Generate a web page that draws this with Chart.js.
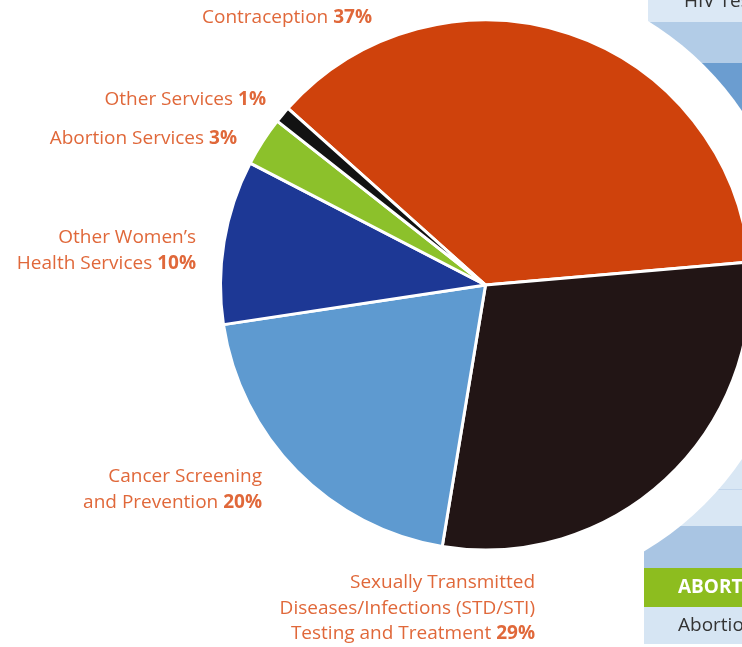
<!DOCTYPE html>
<html>
<head>
<meta charset="utf-8">
<script src="https://cdn.jsdelivr.net/npm/chart.js@4.4.0/dist/chart.umd.min.js"></script>
<style>
  html, body { margin: 0; padding: 0; background: #fff; overflow: hidden; }
  #wrap { position: absolute; left: 0; top: 0; width: 742px; height: 647px; overflow: hidden; }
  canvas { position: absolute; left: 0; top: 0; }
</style>
</head>
<body>
<div id="wrap"><canvas id="pie" width="760" height="647"></canvas></div>
<script>
// slices, clockwise from Contraception
const categories = [
  "Contraception",
  "Sexually Transmitted Diseases/Infections (STD/STI) Testing and Treatment",
  "Cancer Screening and Prevention",
  "Other Women’s Health Services",
  "Abortion Services",
  "Other Services",
];
const shares = [37, 29, 20, 10, 3, 1];
const sliceColors = ["#cf420c", "#221515", "#5e9ad0", "#1d3895", "#8cc12b", "#121212"];
// how each label is broken over lines
const labelLines = [
  ["Contraception"],
  ["Sexually Transmitted", "Diseases/Infections (STD/STI)", "Testing and Treatment"],
  ["Cancer Screening", "and Prevention"],
  ["Other Women’s", "Health Services"],
  ["Abortion Services"],
  ["Other Services"],
];
// right edge / first line middle of each label block
const labelAnchors = [[372, 18], [535, 583], [262, 477], [196, 238], [237, 139], [266, 100]];

const FONT = '"Open Sans", sans-serif';
const TEXT_COLOR = "#e0683a";

// table peeking in from the right, plus the white halo round the pie
const backdrop = {
  id: "backdrop",
  beforeDatasetsDraw(chart) {
    const ctx = chart.ctx;
    const meta = chart.getDatasetMeta(0);
    const arc = meta.data[0];
    const cx = arc.x, cy = arc.y, r = arc.outerRadius;
    ctx.save();
    // top block
    ctx.fillStyle = "#dbe8f5"; ctx.fillRect(648, -5, 120, 27);
    ctx.fillStyle = "#b2cce7"; ctx.fillRect(648, 22, 120, 41);
    ctx.fillStyle = "#6b9dd0"; ctx.fillRect(648, 63, 120, 400);
    ctx.fillStyle = "#333";
    ctx.font = "19px " + FONT;
    ctx.textBaseline = "middle";
    ctx.fillText("HIV Testing", 684, 2);
    // bottom block
    ctx.fillStyle = "#d9e7f4"; ctx.fillRect(644, 440, 120, 86);
    ctx.fillStyle = "#c2d6ec"; ctx.fillRect(644, 489, 120, 1);
    ctx.fillStyle = "#a9c5e3"; ctx.fillRect(644, 526, 120, 42);
    ctx.fillStyle = "#8dbd1f"; ctx.fillRect(644, 568, 120, 39);
    ctx.fillStyle = "#d6e5f3"; ctx.fillRect(644, 607, 120, 37);
    ctx.fillStyle = "#ffffff";
    ctx.font = "bold 19px " + FONT;
    ctx.fillText("ABORTION", 678, 588);
    ctx.fillStyle = "#333";
    ctx.font = "19px " + FONT;
    ctx.fillText("Abortion", 678, 626);
    // halo
    ctx.beginPath();
    ctx.arc(cx, cy, r + 45, 0, Math.PI * 2);
    ctx.fillStyle = "#ffffff";
    ctx.fill();
    ctx.restore();
  },
};

// outside labels: name in regular, share in bold, right aligned
const sliceLabels = {
  id: "sliceLabels",
  afterDatasetsDraw(chart) {
    const ctx = chart.ctx;
    const lineH = 25.5;
    ctx.save();
    ctx.fillStyle = TEXT_COLOR;
    ctx.textBaseline = "middle";
    ctx.textAlign = "left";
    labelLines.forEach((lines, i) => {
      const [rx, y0] = labelAnchors[i];
      lines.forEach((txt, j) => {
        const y = y0 + j * lineH;
        const last = j === lines.length - 1;
        const pct = last ? " " + shares[i] + "%" : "";
        ctx.font = "bold 19px " + FONT;
        const wb = pct ? ctx.measureText(pct).width : 0;
        ctx.font = "19px " + FONT;
        const wn = ctx.measureText(txt).width;
        ctx.fillText(txt, rx - wb - wn, y);
        if (pct) {
          ctx.font = "bold 19px " + FONT;
          ctx.fillText(pct, rx - wb, y);
        }
      });
    });
    ctx.restore();
  },
};

const ctx = document.getElementById("pie").getContext("2d");
new Chart(ctx, {
  type: "pie",
  data: {
    labels: categories,
    datasets: [
      {
        data: shares,
        backgroundColor: sliceColors,
        borderColor: "#ffffff",
        borderWidth: 3,
      },
    ],
  },
  options: {
    responsive: false,
    animation: false,
    rotation: -48.2,
    layout: { padding: { left: 219, right: 8, top: 18, bottom: 95 } },
    plugins: {
      legend: { display: false },
      tooltip: { enabled: false },
    },
  },
  plugins: [backdrop, sliceLabels],
});
</script>
</body>
</html>
